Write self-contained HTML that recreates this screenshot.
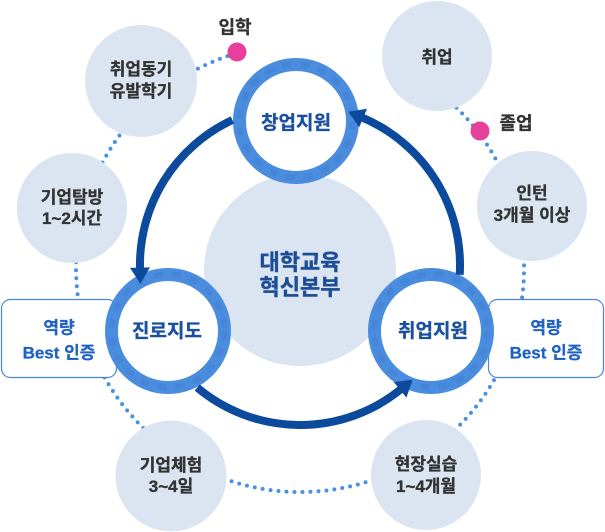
<!DOCTYPE html>
<html>
<head>
<meta charset="utf-8">
<style>
html,body{margin:0;padding:0;background:#fff;}
svg{display:block;}
text{font-family:"Liberation Sans","Noto Sans CJK KR",sans-serif;font-weight:bold;text-anchor:middle;}
</style>
</head>
<body>
<svg width="605" height="532" viewBox="0 0 605 532" xmlns="http://www.w3.org/2000/svg">
  <defs>
    <marker id="ah" markerUnits="userSpaceOnUse" markerWidth="20" markerHeight="24" viewBox="0 -12 17 24" refX="1" refY="0" orient="auto">
      <path d="M0,-10 L16,0 L0,10 Z" fill="#0b4a9c"/>
    </marker>
  </defs>

  <!-- big dotted circle -->
  <path d="M412,74 A224,224 0 1 1 238.3,52.7" fill="none" stroke="#4a90e2" stroke-width="4" stroke-linecap="round" stroke-dasharray="0 8"/>

  <!-- satellites -->
  <circle cx="141" cy="81" r="56" fill="#dbe4f1"/>
  <circle cx="72" cy="208" r="55" fill="#dbe4f1"/>
  <circle cx="437" cy="56" r="55" fill="#dbe4f1"/>
  <circle cx="532" cy="206" r="55" fill="#dbe4f1"/>
  <circle cx="171" cy="476" r="55.5" fill="#dbe4f1"/>
  <circle cx="426" cy="475" r="55" fill="#dbe4f1"/>

  <g fill="#333" stroke="#333" stroke-width="0.35" font-size="17">
    <text x="141" y="75">취업동기</text>
    <text x="141" y="97">유발학기</text>
    <text x="72" y="203">기업탐방</text>
    <text x="72" y="224">1~2시간</text>
    <text x="437" y="63">취업</text>
    <text x="532" y="199">인턴</text>
    <text x="532" y="221">3개월 이상</text>
    <text x="171" y="471">기업체험</text>
    <text x="171" y="492">3~4일</text>
    <text x="426" y="470">현장실습</text>
    <text x="426" y="492">1~4개월</text>
  </g>

  <!-- pink milestone dots -->
  <circle cx="237" cy="52" r="9.5" fill="#e7409b"/>
  <circle cx="480" cy="131" r="9.5" fill="#e7409b"/>
  <g fill="#333" stroke="#333" stroke-width="0.35" font-size="18">
    <text x="235" y="33.5">입학</text>
    <text x="516" y="129.5">졸업</text>
  </g>

  <!-- side boxes -->
  <rect x="1.5" y="299.5" width="115" height="78" rx="9" ry="9" fill="#fff" stroke="#4a86d6" stroke-width="1.2"/>
  <rect x="488.5" y="299.5" width="115" height="78" rx="9" ry="9" fill="#fff" stroke="#4a86d6" stroke-width="1.2"/>
  <g fill="#1f62c4" stroke="#1f62c4" stroke-width="0.3" font-size="17">
    <text x="59" y="333.5">역량</text>
    <text x="59" y="358.5">Best 인증</text>
    <text x="546" y="333.5">역량</text>
    <text x="546" y="358.5">Best 인증</text>
  </g>

  <!-- center circle -->
  <circle cx="300" cy="270" r="96" fill="#dbe4f1"/>
  <g fill="#1d4d96" stroke="#1d4d96" stroke-width="0.4" font-size="22">
    <text x="300" y="270">대학교육</text>
    <text x="300" y="295">혁신본부</text>
  </g>

  <!-- rings -->
  <g fill="#fff" stroke="#4a8ddf" stroke-width="13">
    <circle cx="296" cy="121" r="56.5"/>
    <circle cx="168" cy="331" r="56.5"/>
    <circle cx="431" cy="331" r="56.5"/>
  </g>
  <g fill="none" stroke="#4380d2" stroke-width="6" stroke-dasharray="9 9" opacity="0.55">
    <circle cx="296" cy="121" r="56.5"/>
    <circle cx="168" cy="331" r="56.5"/>
    <circle cx="431" cy="331" r="56.5"/>
  </g>
  <g fill="#1b50a0" stroke="#1b50a0" stroke-width="0.35" font-size="19">
    <text x="296" y="129">창업지원</text>
    <text x="167" y="337">진로지도</text>
    <text x="433" y="337">취업지원</text>
  </g>

  <!-- cycle arrows -->
  <g fill="none" stroke="#0b4a9c" stroke-width="8" marker-end="url(#ah)">
    <path d="M232.4,120.0 A160,160 0 0 0 140.0,268.6"/>
    <path d="M197.2,387.6 A160,160 0 0 0 400.9,389.2"/>
    <path d="M459.7,274.8 A160,160 0 0 0 362.2,117.6"/>
  </g>
</svg>
</body>
</html>
